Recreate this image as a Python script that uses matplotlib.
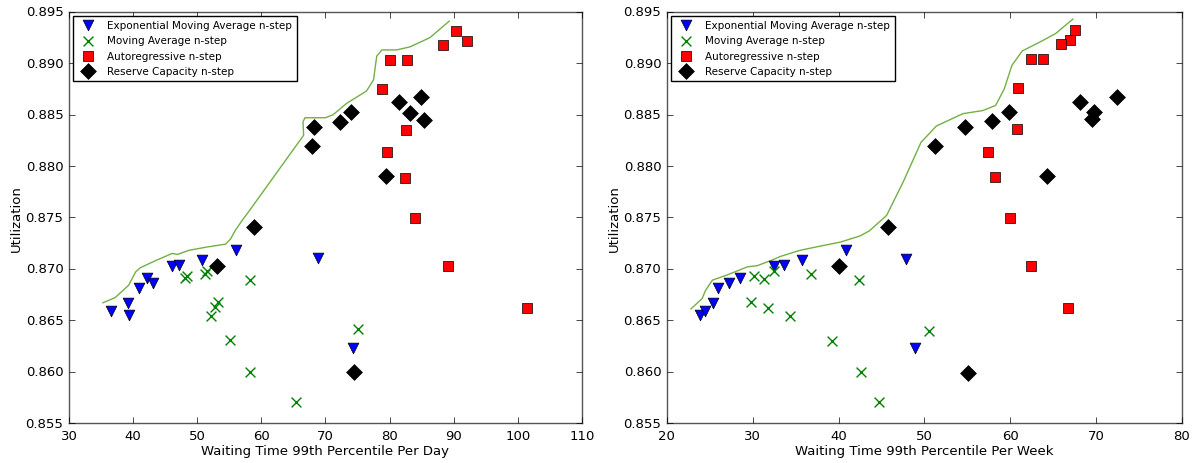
import numpy as np
import matplotlib
matplotlib.use('Agg')
import matplotlib.pyplot as plt

plt.style.use('classic')
plt.rcParams['font.family'] = 'DejaVu Sans'
plt.rcParams['font.size'] = 9

# ---------------------------------------------------------------- per day
day_ema_x = [36.6, 39.2, 39.3, 41.0, 42.1, 43.1, 46.1, 47.1, 50.7, 56.1, 68.8, 74.3]
day_ema_y = [0.8659, 0.8667, 0.8655, 0.8681, 0.8691, 0.8686, 0.8703, 0.8704, 0.8709, 0.8718, 0.8711, 0.8623]

day_ma_x = [48.1, 48.4, 51.2, 51.5, 52.7, 53.2, 52.1, 55.1, 58.3, 58.3, 65.4, 75.0]
day_ma_y = [0.8691, 0.8693, 0.8695, 0.8698, 0.8663, 0.8668, 0.8654, 0.8631, 0.8689, 0.8600, 0.8570, 0.8641]

day_ar_x = [90.3, 92.1, 88.4, 80.0, 82.7, 78.8, 82.5, 79.6, 82.4, 83.9, 89.1, 101.5]
day_ar_y = [0.8931, 0.8922, 0.8918, 0.8903, 0.8903, 0.8875, 0.8835, 0.8814, 0.8788, 0.8749, 0.8703, 0.8662]

day_rc_x = [58.8, 67.9, 68.2, 72.3, 74.0, 81.4, 83.2, 84.9, 85.3, 79.5, 53.1, 74.4]
day_rc_y = [0.8741, 0.8820, 0.8838, 0.8843, 0.8853, 0.8862, 0.8852, 0.8867, 0.8845, 0.8790, 0.8703, 0.8600]

day_front_x = [35.3, 37.2, 39.3, 40.4, 41.1, 43.5, 46.1, 46.9, 48.7, 51.3, 54.4, 55.2, 55.9, 57.0,
               58.3, 66.6, 66.5, 66.8, 70.0, 71.2, 73.3, 76.4, 77.5, 78.0, 78.8, 81.1, 83.2, 86.3, 89.3]
day_front_y = [0.8667, 0.8672, 0.8684, 0.8697, 0.8701, 0.8708, 0.8715, 0.8714, 0.8718, 0.8721, 0.8724,
               0.8729, 0.8737, 0.8747, 0.8758, 0.8830, 0.8843, 0.8847, 0.8847, 0.8850, 0.8861, 0.8873,
               0.8884, 0.8907, 0.8913, 0.8913, 0.8916, 0.8925, 0.8941]

# ---------------------------------------------------------------- per week
week_ema_x = [23.8, 24.4, 25.4, 25.9, 27.2, 28.5, 32.5, 33.7, 35.7, 40.9, 47.8, 48.9]
week_ema_y = [0.8655, 0.8659, 0.8667, 0.8681, 0.8686, 0.8691, 0.8703, 0.8704, 0.8709, 0.8718, 0.8710, 0.8623]

week_ma_x = [30.2, 31.3, 32.5, 29.8, 31.8, 34.4, 36.8, 39.2, 42.4, 42.6, 44.7, 50.5]
week_ma_y = [0.8693, 0.8690, 0.8698, 0.8668, 0.8662, 0.8654, 0.8695, 0.8630, 0.8689, 0.8600, 0.8570, 0.8640]

week_ar_x = [67.6, 67.0, 65.9, 62.4, 63.8, 60.9, 60.8, 57.4, 58.2, 60.0, 62.4, 66.7]
week_ar_y = [0.8932, 0.8923, 0.8919, 0.8904, 0.8904, 0.8876, 0.8836, 0.8814, 0.8789, 0.8749, 0.8703, 0.8662]

week_rc_x = [51.2, 54.7, 57.9, 59.9, 68.1, 69.8, 69.5, 72.4, 64.3, 45.8, 40.0, 55.1]
week_rc_y = [0.8820, 0.8838, 0.8844, 0.8853, 0.8862, 0.8853, 0.8846, 0.8867, 0.8790, 0.8741, 0.8703, 0.8599]

week_front_x = [22.8, 24.1, 24.5, 25.3, 27.0, 29.4, 30.5, 32.1, 33.2, 35.5, 37.8, 40.2, 42.5, 43.6,
                45.6, 47.5, 49.6, 51.4, 54.5, 56.8, 58.3, 59.3, 60.2, 61.4, 63.3, 65.3, 67.3]
week_front_y = [0.8661, 0.8671, 0.8679, 0.8689, 0.8694, 0.8702, 0.8703, 0.8708, 0.8712, 0.8718, 0.8722,
                0.8726, 0.8732, 0.8737, 0.8752, 0.8784, 0.8823, 0.8839, 0.8851, 0.8854, 0.8859, 0.8875,
                0.8898, 0.8912, 0.8920, 0.8929, 0.8943]

labels = ['Exponential Moving Average n-step', 'Moving Average n-step',
          'Autoregressive n-step', 'Reserve Capacity n-step']


def panel(ax, ema, ma, ar, rc, front, xlim, xlabel):
    ax.plot(front[0], front[1], '-', color='#73b043', lw=1.0)
    ax.scatter(ema[0], ema[1], marker='v', s=60, c='b', edgecolors='k', lw=0.5, label=labels[0], zorder=3)
    ax.scatter(ma[0], ma[1], marker='x', s=50, c='g', lw=1.0, label=labels[1], zorder=3)
    ax.scatter(ar[0], ar[1], marker='s', s=45, c='r', edgecolors='k', lw=0.5, label=labels[2], zorder=3)
    ax.scatter(rc[0], rc[1], marker='D', s=65, c='k', edgecolors='k', lw=0.5, label=labels[3], zorder=3)
    ax.set_xlim(xlim)
    ax.set_ylim(0.855, 0.895)
    ax.set_xlabel(xlabel, fontsize=9.5, labelpad=2)
    ax.set_ylabel('Utilization', fontsize=9.5, labelpad=2)
    ax.yaxis.set_major_formatter(matplotlib.ticker.FormatStrFormatter('%.3f'))
    ax.tick_params(labelsize=9.5)
    for sp in ax.spines.values():
        sp.set_color('#555555')
    ax.legend(loc='upper left', scatterpoints=1, fontsize=7.5, borderpad=0.45, labelspacing=0.5,
              handletextpad=0.9, borderaxespad=0.35)


fig = plt.figure(figsize=(11.93, 4.64), dpi=100, facecolor='w')
ax1 = fig.add_axes([0.0578, 0.0862, 0.430, 0.886])
ax2 = fig.add_axes([0.559, 0.0862, 0.4317, 0.886])

panel(ax1, (day_ema_x, day_ema_y), (day_ma_x, day_ma_y), (day_ar_x, day_ar_y),
      (day_rc_x, day_rc_y), (day_front_x, day_front_y), (30, 110),
      'Waiting Time 99th Percentile Per Day')
panel(ax2, (week_ema_x, week_ema_y), (week_ma_x, week_ma_y), (week_ar_x, week_ar_y),
      (week_rc_x, week_rc_y), (week_front_x, week_front_y), (20, 80),
      'Waiting Time 99th Percentile Per Week')

fig.savefig('out.png', dpi=100, facecolor='w')
